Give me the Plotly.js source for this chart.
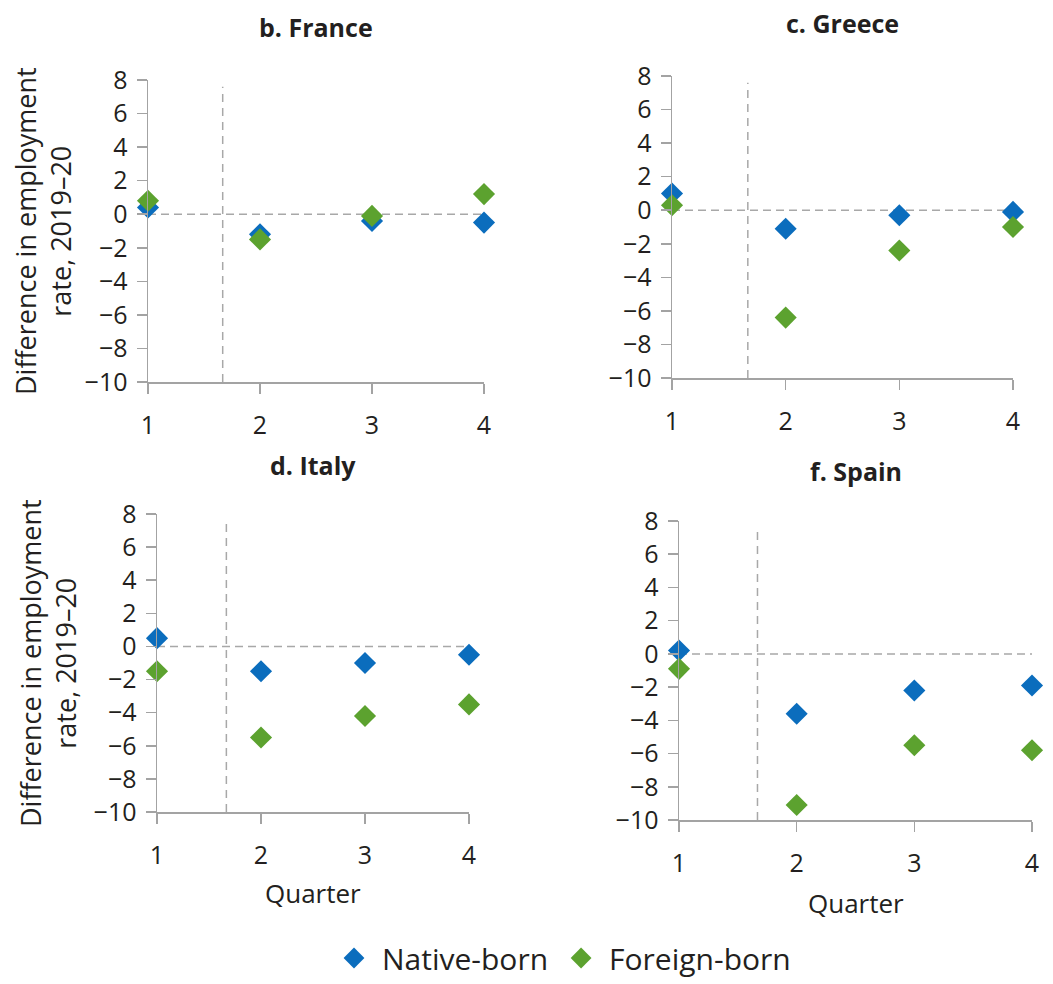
<!DOCTYPE html>
<html>
<head>
<meta charset="utf-8">
<script src="https://cdn.plot.ly/plotly-3.0.1.min.js"></script>
<style>html,body{margin:0;padding:0;background:#fff;}#chart{width:1053px;height:984px;}</style>
</head>
<body>
<div id="chart"></div>
<script>
// ---- data ----
const quarters = [1, 2, 3, 4];
const panelTitles = ["b. France", "c. Greece", "d. Italy", "f. Spain"];
const franceNative  = [0.4, -1.2, -0.4, -0.5];
const franceForeign = [0.8, -1.5, -0.1, 1.2];
const greeceNative  = [1.0, -1.1, -0.3, -0.1];
const greeceForeign = [0.3, -6.4, -2.4, -1.0];
const italyNative   = [0.5, -1.5, -1.0, -0.5];
const italyForeign  = [-1.5, -5.5, -4.2, -3.5];
const spainNative   = [0.2, -3.6, -2.2, -1.9];
const spainForeign  = [-0.9, -9.1, -5.5, -5.8];
const seriesNames = ["Native-born", "Foreign-born"];
const yTickVals = [-10, -8, -6, -4, -2, 0, 2, 4, 6, 8];
const breakQuarter = 1.667;   // dashed vertical separator
const yTitle = "Difference in employment<br>rate, 2019\u201320";
const xTitle = "Quarter";

// ---- layout ----
const W = 1053, H = 984;
const FONT = "Open Sans, DejaVu Sans, sans-serif";
const BLUE = "#0b6dbd", GREEN = "#5ca22f", AXIS = "#a3a3a3", DASH = "#a8a8a8";
// plot boxes in pixels [left, top, right, bottom]
const boxes = [
  [148, 80, 484, 382],
  [672, 76, 1013, 378],
  [157, 514, 469, 812],
  [679, 521, 1032, 820]
];
const data = [
  [franceNative, franceForeign],
  [greeceNative, greeceForeign],
  [italyNative, italyForeign],
  [spainNative, spainForeign]
];

const traces = [];
const layout = {
  width: W, height: H,
  margin: {l: 0, r: 0, t: 0, b: 0},
  paper_bgcolor: "#fff", plot_bgcolor: "#fff",
  font: {family: FONT, color: "#231f20", size: 20},
  showlegend: true,
  legend: {orientation: "h", x: 561 / W, xanchor: "center", y: 0, yanchor: "bottom",
           itemwidth: 46,
           font: {size: 30, family: FONT, color: "#231f20"}, itemclick: false, tracegroupgap: 0},
  shapes: [], annotations: []
};

boxes.forEach((b, i) => {
  const n = i + 1;
  const xa = "x" + (n === 1 ? "" : n), ya = "y" + (n === 1 ? "" : n);
  const xk = "xaxis" + (n === 1 ? "" : n), yk = "yaxis" + (n === 1 ? "" : n);
  layout[xk] = {
    domain: [b[0] / W, b[2] / W], anchor: ya, range: [1, 4],
    tickvals: quarters, ticks: "outside", ticklen: 10, tickcolor: AXIS, tickwidth: 1.5,
    showline: true, linecolor: AXIS, linewidth: 1.5, showgrid: false, zeroline: false,
    tickfont: {size: 25}, ticklabelstandoff: 10, fixedrange: true
  };
  layout[yk] = {
    domain: [1 - b[3] / H, 1 - b[1] / H], anchor: xa, range: [-10, 8],
    tickvals: yTickVals, ticks: "outside", ticklen: 10, tickcolor: AXIS, tickwidth: 1.5,
    showline: true, linecolor: AXIS, linewidth: 1.5, showgrid: false, zeroline: false,
    tickfont: {size: 25}, ticklabelstandoff: 4, fixedrange: true
  };
  // dashed reference lines
  layout.shapes.push({type: "line", xref: xa, yref: ya, x0: 1, x1: 4, y0: 0, y1: 0,
    line: {color: DASH, width: 1.5, dash: "8px,5px"}, layer: "below"});
  layout.shapes.push({type: "line", xref: xa, yref: ya, x0: breakQuarter, x1: breakQuarter, y0: -10, y1: 7.6,
    line: {color: DASH, width: 1.5, dash: "8px,6px"}, layer: "below"});
  // panel title
  layout.annotations.push({text: "<b>" + panelTitles[i] + "</b>", xref: "paper", yref: "paper",
    x: (b[0] + b[2]) / 2 / W, y: 1 - [27, 23, 465, 471][i] / H, xanchor: "center", yanchor: "middle",
    showarrow: false, font: {size: 25, family: FONT, color: "#231f20"}});
  // y axis title for left panels
  if (i === 0 || i === 2) {
    layout.annotations.push({text: yTitle, xref: "paper", yref: "paper",
      x: [43, 0, 48][i] / W, y: 1 - (b[1] + b[3]) / 2 / H, xanchor: "center", yanchor: "middle",
      textangle: -90, showarrow: false, font: {size: 27, family: FONT, color: "#231f20"}});
  }
  // x axis title for bottom panels
  if (i >= 2) {
    layout.annotations.push({text: xTitle, xref: "paper", yref: "paper",
      x: (b[0] + b[2]) / 2 / W, y: 1 - [893, 903][i - 2] / H, xanchor: "center", yanchor: "middle",
      showarrow: false, font: {size: 26, family: FONT, color: "#231f20"}});
  }
  [BLUE, GREEN].forEach((c, s) => {
    traces.push({
      type: "scatter", mode: "markers", x: quarters, y: data[i][s], xaxis: xa, yaxis: ya,
      name: seriesNames[s], legendgroup: seriesNames[s], showlegend: i === 0,
      cliponaxis: false,
      marker: {symbol: "diamond", size: 17, color: c}, hoverinfo: "x+y+name"
    });
  });
});

Plotly.newPlot("chart", traces, layout, {displayModeBar: false, staticPlot: true});
</script>
</body>
</html>
